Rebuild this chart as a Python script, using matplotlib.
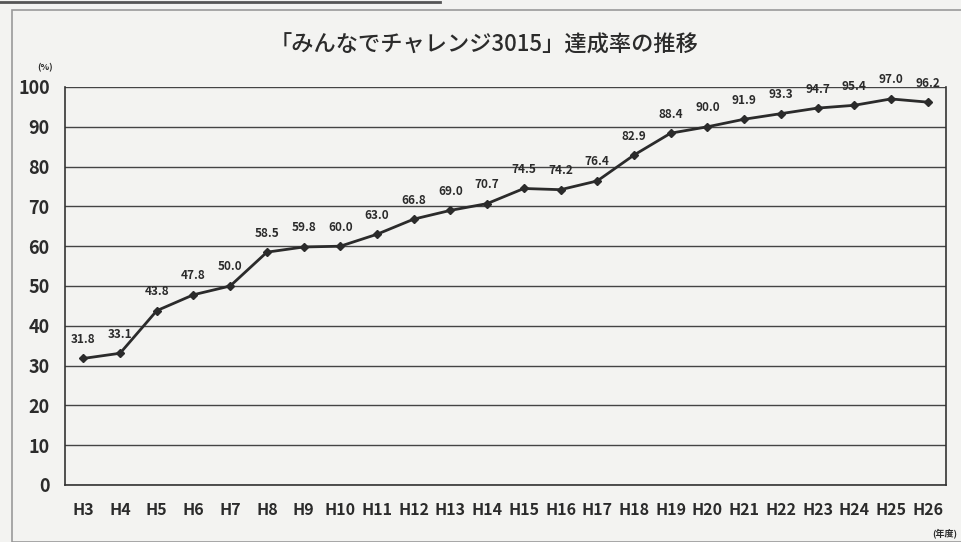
import matplotlib.pyplot as plt
from matplotlib.patches import Rectangle

plt.rcParams['font.family'] = ['Noto Sans CJK JP', 'DejaVu Sans']

# 年度と達成率(%)
years = ['H3', 'H4', 'H5', 'H6', 'H7', 'H8', 'H9', 'H10', 'H11', 'H12', 'H13', 'H14',
         'H15', 'H16', 'H17', 'H18', 'H19', 'H20', 'H21', 'H22', 'H23', 'H24', 'H25', 'H26']
rates = [31.8, 33.1, 43.8, 47.8, 50.0, 58.5, 59.8, 60.0, 63.0, 66.8, 69.0, 70.7,
         74.5, 74.2, 76.4, 82.9, 88.4, 90.0, 91.9, 93.3, 94.7, 95.4, 97.0, 96.2]
y_ticks = [0, 10, 20, 30, 40, 50, 60, 70, 80, 90, 100]

W, H = 961, 542
bg = '#f3f3f1'
ink = '#2b2b2b'

fig = plt.figure(figsize=(W / 100, H / 100), dpi=100, facecolor=bg)

# outer frame of the scanned page
fig.add_artist(Rectangle((12 / W, 0), 1, 1 - 10 / H, transform=fig.transFigure,
                         fill=False, edgecolor='#9a9a9a', linewidth=1.2))
fig.add_artist(plt.Line2D([0, 440 / W], [1 - 2 / H, 1 - 2 / H], transform=fig.transFigure,
                          color='#555555', linewidth=2))

left, right, top, bottom = 65, 946, 87, 485
ax = fig.add_axes([left / W, 1 - bottom / H, (right - left) / W, (bottom - top) / H])
ax.set_facecolor(bg)

x = list(range(len(years)))
ax.plot(x, rates, color=ink, linewidth=2, marker='D', markersize=4.5,
        markerfacecolor=ink, markeredgecolor=ink, zorder=3)

for xi, v in zip(x, rates):
    ax.annotate(f'{v:.1f}', (xi, v), xytext=(0, 9), textcoords='offset points',
                ha='center', va='bottom', fontsize=8.5, fontweight='bold', color=ink)

ax.set_xlim(-0.5, len(years) - 0.5)
ax.set_ylim(0, 100)
ax.set_yticks(y_ticks)
ax.set_xticks(x)
ax.set_xticklabels(years)
ax.yaxis.grid(True, color='#444444', linewidth=1)
ax.set_axisbelow(True)
ax.tick_params(axis='both', length=0, labelcolor=ink)
ax.tick_params(axis='y', pad=11, labelsize=13)
ax.tick_params(axis='x', pad=12, labelsize=11.5)
for lab in ax.get_xticklabels() + ax.get_yticklabels():
    lab.set_fontweight('bold')

for side in ['left', 'right', 'bottom']:
    ax.spines[side].set_color('#333333')
    ax.spines[side].set_linewidth(1.2)
ax.spines['top'].set_visible(False)

fig.text(484 / W, 1 - 45 / H, '「みんなでチャレンジ3015」達成率の推移',
         ha='center', va='center', fontsize=16, fontweight='medium', color=ink)
fig.text(45 / W, 1 - 68 / H, '(%)', ha='center', va='center', fontsize=6.5,
         fontweight='bold', color=ink)
fig.text(945 / W, 1 - 533 / H, '(年度)', ha='center', va='center', fontsize=6.5,
         fontweight='bold', color=ink)

fig.savefig('out.png', dpi=100, facecolor=bg)
